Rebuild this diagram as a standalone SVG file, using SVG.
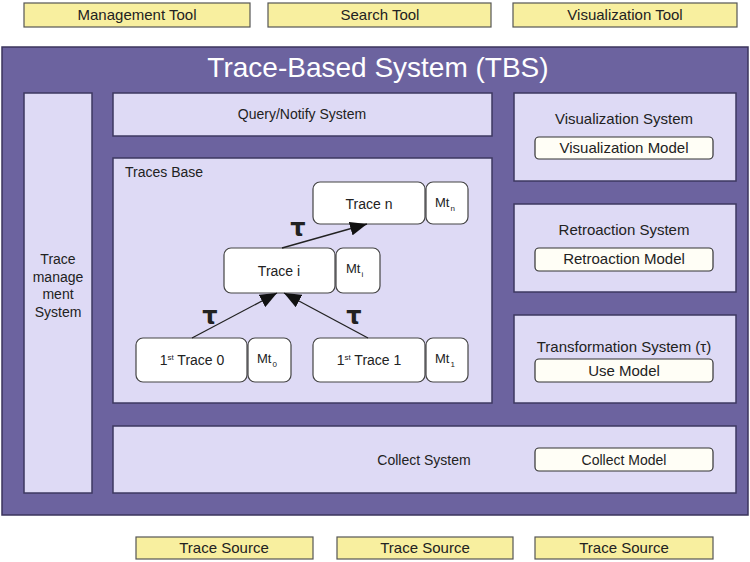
<svg xmlns="http://www.w3.org/2000/svg" width="750" height="562" viewBox="0 0 750 562">
<defs>
<style>
text{font-family:"Liberation Sans",Arial,sans-serif;fill:#222;}
.tool{fill:#f8ef9f;stroke:#555;stroke-width:1.2;}
.sys{fill:#dedaf5;stroke:#3d3860;stroke-width:1.5;}
.model{fill:#fffef6;stroke:#333;stroke-width:1.2;}
.tr{fill:#ffffff;stroke:#444;stroke-width:1.2;}
.t15{font-size:15px;text-anchor:middle;}
.t14{font-size:14px;text-anchor:middle;}
.tau{font-size:24px;font-weight:bold;text-anchor:middle;font-family:"DejaVu Sans",sans-serif;}
.conn{stroke:#222;stroke-width:1.3;fill:none;}
</style>
<marker id="ah" markerUnits="userSpaceOnUse" markerWidth="18" markerHeight="14" refX="17" refY="7" orient="auto">
<path d="M0,0 L17,7 L0,14 z" fill="#111"/>
</marker>
</defs>
<rect width="750" height="562" fill="#ffffff"/>

<g id="management-tool"><rect class="tool" x="24" y="3" width="226" height="24"/><text class="t15" x="137" y="20">Management Tool</text></g>
<g id="search-tool"><rect class="tool" x="268" y="3" width="223" height="24"/><text class="t15" x="380" y="20">Search Tool</text></g>
<g id="visualization-tool"><rect class="tool" x="513" y="3" width="224" height="24"/><text class="t15" x="625" y="20">Visualization Tool</text></g>

<g id="tbs">
<rect x="2" y="47" width="746" height="468" fill="#6c639f" stroke="#3b355c" stroke-width="1.5"/>
<text x="378" y="77" style="font-size:28px;fill:#ffffff;text-anchor:middle;">Trace-Based System (TBS)</text>
</g>

<g id="trace-management-system">
<rect class="sys" x="24" y="93" width="68" height="400"/>
<text class="t14" x="58" y="264">Trace</text>
<text class="t14" x="58" y="282">manage</text>
<text class="t14" x="58" y="299">ment</text>
<text class="t14" x="58" y="317">System</text>
</g>

<g id="query-notify-system"><rect class="sys" x="113" y="93" width="379" height="43"/><text class="t14" x="302" y="119">Query/Notify System</text></g>

<g id="traces-base"><rect class="sys" x="113" y="158" width="379" height="245"/><text x="125" y="177" style="font-size:14px;">Traces Base</text></g>

<g id="visualization-system">
<rect class="sys" x="514" y="93" width="222" height="88"/>
<text class="t15" x="624" y="124">Visualization System</text>
<rect class="model" x="535" y="137" width="178" height="22" rx="4"/>
<text class="t15" x="624" y="153">Visualization Model</text>
</g>
<g id="retroaction-system">
<rect class="sys" x="514" y="204" width="222" height="88"/>
<text class="t15" x="624" y="235">Retroaction System</text>
<rect class="model" x="535" y="248" width="178" height="23" rx="4"/>
<text class="t15" x="624" y="264">Retroaction Model</text>
</g>
<g id="transformation-system">
<rect class="sys" x="514" y="315" width="222" height="88"/>
<text class="t15" x="624" y="352">Transformation System (τ)</text>
<rect class="model" x="535" y="359" width="178" height="23" rx="4"/>
<text class="t15" x="624" y="376">Use Model</text>
</g>

<g id="collect-system">
<rect class="sys" x="113" y="426" width="623" height="67"/>
<text class="t14" x="424" y="465">Collect System</text>
<rect class="model" x="535" y="448" width="178" height="23" rx="4"/>
<text class="t14" x="624" y="465">Collect Model</text>
</g>

<g id="trace-source-1"><rect class="tool" x="136" y="537" width="177" height="22"/><text class="t15" x="224" y="553">Trace Source</text></g>
<g id="trace-source-2"><rect class="tool" x="337" y="537" width="176" height="22"/><text class="t15" x="425" y="553">Trace Source</text></g>
<g id="trace-source-3"><rect class="tool" x="535" y="537" width="178" height="22"/><text class="t15" x="624" y="553">Trace Source</text></g>

<g id="trace-n">
<rect class="tr" x="313" y="182" width="112" height="42" rx="7"/>
<text class="t14" x="369" y="209">Trace n</text>
<rect class="tr" x="426" y="182" width="42" height="42" rx="7"/>
<text x="435" y="207" style="font-size:13px;">Mt<tspan dx="1" dy="4" style="font-size:8px;">n</tspan></text>
</g>
<g id="trace-i">
<rect class="tr" x="224" y="248" width="111" height="45" rx="7"/>
<text class="t14" x="279" y="276">Trace i</text>
<rect class="tr" x="336" y="248" width="44" height="45" rx="7"/>
<text x="346" y="273" style="font-size:13px;">Mt<tspan dx="1" dy="4" style="font-size:8px;">i</tspan></text>
</g>
<g id="first-trace-0">
<rect class="tr" x="136" y="338" width="111" height="44" rx="7"/>
<text class="t14" x="192" y="365">1<tspan dy="-5" style="font-size:8px;">st</tspan><tspan dy="5"> Trace 0</tspan></text>
<rect class="tr" x="248" y="338" width="43" height="44" rx="7"/>
<text x="257" y="363" style="font-size:13px;">Mt<tspan dx="1" dy="4" style="font-size:8px;">0</tspan></text>
</g>
<g id="first-trace-1">
<rect class="tr" x="313" y="338" width="112" height="44" rx="7"/>
<text class="t14" x="369" y="365">1<tspan dy="-5" style="font-size:8px;">st</tspan><tspan dy="5"> Trace 1</tspan></text>
<rect class="tr" x="426" y="338" width="42" height="44" rx="7"/>
<text x="435" y="363" style="font-size:13px;">Mt<tspan dx="1" dy="4" style="font-size:8px;">1</tspan></text>
</g>

<g id="connectors">
<line class="conn" x1="282" y1="248" x2="367" y2="224" marker-end="url(#ah)"/>
<line class="conn" x1="192" y1="338" x2="277" y2="293" marker-end="url(#ah)"/>
<line class="conn" x1="368" y1="338" x2="284" y2="293" marker-end="url(#ah)"/>
<text class="tau" x="298" y="236">τ</text>
<text class="tau" x="210" y="324">τ</text>
<text class="tau" x="354" y="324">τ</text>
</g>
</svg>
